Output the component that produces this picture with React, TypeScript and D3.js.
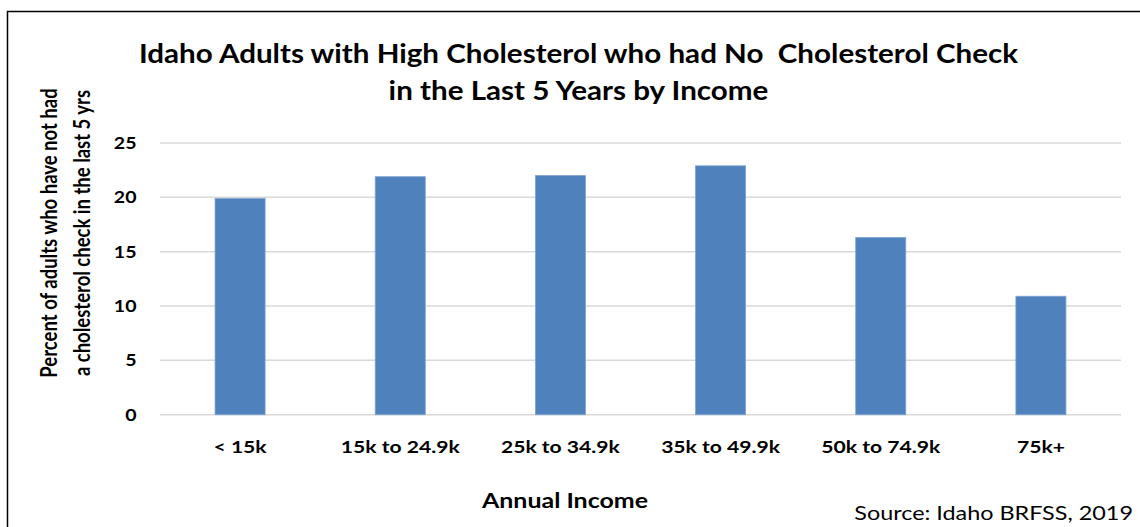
import * as d3 from "d3";
import { useRef, useEffect } from "react";

const incomeGroups = ["< 15k", "15k to 24.9k", "25k to 34.9k", "35k to 49.9k", "50k to 74.9k", "75k+"];
const noCheckPercent = [19.9, 21.9, 22.0, 22.9, 16.3, 10.9];
const yTicks = [0, 5, 10, 15, 20, 25];
const titleLines = [
  "Idaho Adults with High Cholesterol who had No\u00a0 Cholesterol Check",
  "in the Last 5 Years by Income",
];
const yTitleLines = ["Percent of adults who have not had", "a cholesterol check in the last 5 yrs"];

export default function App() {
  const width = 1140;
  const height = 527;
  const marginLeft = 160;
  const marginRight = 19;
  const plotTop = 143;
  const plotBottom = 414.7;
  const font = "Lato, 'Open Sans', sans-serif";
  // the reference text looks stretched sideways
  const stretch = 1.2;

  const ref = useRef(null);
  useEffect((): void => {
    if (!ref.current) return;
    const svg = d3.select(ref.current);
    svg.selectAll("*").remove();

    const x = d3
      .scaleBand()
      .domain(incomeGroups)
      .range([marginLeft, width - marginRight])
      .paddingInner(0.6875)
      .paddingOuter(0.34375);
    const y = d3.scaleLinear().domain([0, 25]).range([plotBottom, plotTop]);

    svg.append("rect").attr("width", width).attr("height", height).attr("fill", "white");
    svg
      .append("path")
      .attr("d", `M7.5,${height + 2}V11.5H${width + 2}`)
      .attr("fill", "none")
      .attr("stroke", "black")
      .attr("stroke-width", 1.5);

    // gridlines
    svg
      .append("g")
      .selectAll()
      .data(yTicks)
      .join("line")
      .attr("x1", marginLeft)
      .attr("x2", width - marginRight)
      .attr("y1", (d) => y(d))
      .attr("y2", (d) => y(d))
      .attr("stroke", "#d9d9d9")
      .attr("stroke-width", 1.5);

    // bars
    svg
      .append("g")
      .selectAll()
      .data(incomeGroups)
      .join("rect")
      .attr("x", (d) => x(d)!)
      .attr("width", x.bandwidth())
      .attr("y", (_, i) => y(noCheckPercent[i]))
      .attr("height", (_, i) => y(0) - y(noCheckPercent[i]))
      .attr("fill", "#4f81bd")
      .attr("stroke", "#7fa3d1")
      .attr("stroke-width", 0.8);

    // y tick labels
    svg
      .append("g")
      .attr("font-family", font)
      .attr("font-weight", "bold")
      .attr("font-size", 16.3)
      .attr("text-anchor", "end")
      .selectAll()
      .data(yTicks)
      .join("text")
      .attr("transform", (d) => `translate(136.5,${y(d)}) scale(${stretch},1)`)
      .attr("dy", "0.36em")
      .text((d) => d);

    // x tick labels
    svg
      .append("g")
      .attr("font-family", font)
      .attr("font-weight", "bold")
      .attr("font-size", 17.6)
      .attr("text-anchor", "middle")
      .selectAll()
      .data(incomeGroups)
      .join("text")
      .attr("transform", (d) => `translate(${x(d)! + x.bandwidth() / 2},452.7) scale(${stretch},1)`)
      .text((d) => d);

    // title
    svg
      .append("g")
      .attr("font-family", font)
      .attr("font-weight", "bold")
      .attr("font-size", 27)
      .attr("text-anchor", "middle")
      .selectAll()
      .data(titleLines)
      .join("text")
      .attr("transform", (_, i) => `translate(578.5,${62.5 + i * 37}) scale(1.096,1)`)
      .text((d) => d);

    // y axis title
    svg
      .append("g")
      .attr("font-family", font)
      .attr("font-weight", "bold")
      .attr("font-size", 18.5)
      .attr("text-anchor", "middle")
      .selectAll()
      .data(yTitleLines)
      .join("text")
      .attr("transform", (_, i) => `translate(${57 + i * 33},233) rotate(-90) scale(1,${stretch})`)
      .text((d) => d);

    svg
      .append("text")
      .attr("font-family", font)
      .attr("font-weight", "bold")
      .attr("font-size", 20.8)
      .attr("text-anchor", "middle")
      .attr("transform", `translate(565,507.5) scale(${stretch},1)`)
      .text("Annual Income");

    svg
      .append("text")
      .attr("font-family", font)
      .attr("font-size", 19.5)
      .attr("text-anchor", "end")
      .attr("transform", `translate(1133,520) scale(${stretch},1)`)
      .text("Source: Idaho BRFSS, 2019");
  }, []);

  return (
    <svg
      ref={ref}
      width={width}
      height={height}
      style={{ position: "absolute", left: 0, top: 0, display: "block" }}
    />
  );
}
